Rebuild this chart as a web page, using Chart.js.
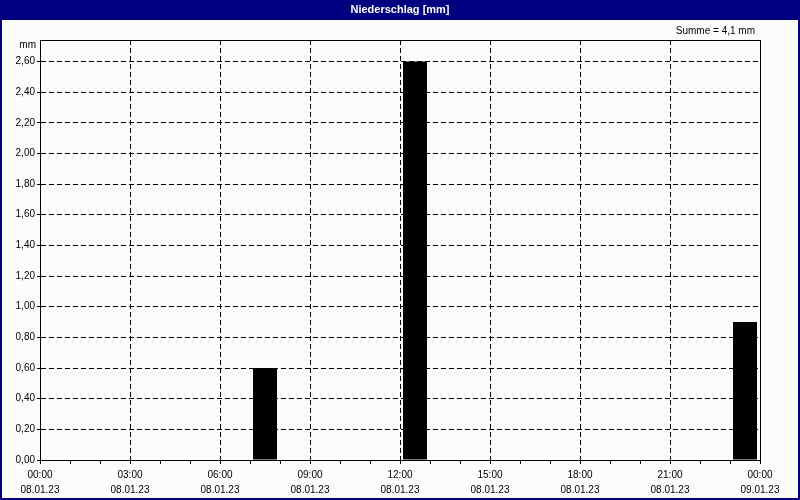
<!DOCTYPE html>
<html>
<head>
<meta charset="utf-8">
<script src="https://cdn.jsdelivr.net/npm/chart.js@4/dist/chart.umd.min.js"></script>
<style>
  html, body { margin: 0; padding: 0; background: #ffffff; }
  canvas { display: block; }
</style>
</head>
<body>
<canvas id="c" width="800" height="500"></canvas>
<script>
// ---- data ----
const titleText = 'Niederschlag [mm]';
const unitLabel = 'mm';
// hourly precipitation (hour starting at index), 08.01.23 00:00 .. 09.01.23 00:00
const hourStarts = ['00:00','01:00','02:00','03:00','04:00','05:00','06:00','07:00','08:00','09:00','10:00','11:00',
                    '12:00','13:00','14:00','15:00','16:00','17:00','18:00','19:00','20:00','21:00','22:00','23:00'];
const precipMm = [0,0,0,0,0,0,0,0.6,0,0,0,0,2.6,0,0,0,0,0,0,0,0,0,0,0.9];
const xTickTimes = ['00:00','03:00','06:00','09:00','12:00','15:00','18:00','21:00','00:00'];
const xTickDates = ['08.01.23','08.01.23','08.01.23','08.01.23','08.01.23','08.01.23','08.01.23','08.01.23','09.01.23'];
const yMax = 2.74;
const yStep = 0.2;

const fontFamily = '"Liberation Sans", Arial, sans-serif';
const total = precipMm.reduce((a, b) => a + b, 0);
const sumText = 'Summe = ' + total.toFixed(1).replace('.', ',') + ' ' + unitLabel;

const frame = {
  id: 'frame',
  beforeDraw(chart) {
    const ctx = chart.ctx;
    ctx.save();
    ctx.fillStyle = '#fafdfa';
    ctx.fillRect(0, 0, chart.width, chart.height);
    ctx.fillStyle = '#000080';
    ctx.fillRect(0, 0, chart.width, 20);
    ctx.fillRect(0, 0, 2, chart.height);
    ctx.fillRect(chart.width - 2, 0, 2, chart.height);
    ctx.fillRect(0, chart.height - 2, chart.width, 2);
    ctx.fillStyle = '#ffffff';
    ctx.font = 'bold 11px ' + fontFamily;
    ctx.textAlign = 'center';
    ctx.textBaseline = 'middle';
    ctx.fillText(titleText, chart.width / 2, 10);
    ctx.restore();
  },
  afterDraw(chart) {
    const ctx = chart.ctx;
    const a = chart.chartArea;
    ctx.save();
    ctx.strokeStyle = '#000';
    ctx.lineWidth = 1;
    ctx.strokeRect(Math.round(a.left) + 0.5, Math.round(a.top) + 0.5,
                   Math.round(a.right - a.left), Math.round(a.bottom - a.top));
    ctx.fillStyle = '#000';
    ctx.font = '10px ' + fontFamily;
    ctx.textBaseline = 'middle';
    ctx.textAlign = 'right';
    ctx.fillText(unitLabel, a.left - 4, a.top + 5);
    ctx.fillText(sumText, a.right - 5, 31);
    ctx.restore();
  }
};

new Chart(document.getElementById('c'), {
  type: 'bar',
  data: {
    datasets: [{
      data: precipMm.map((v, i) => ({ x: i + 0.5, y: v })),
      backgroundColor: '#000',
      borderWidth: 0,
      barPercentage: 0.8,
      categoryPercentage: 1.0
    }]
  },
  plugins: [frame],
  options: {
    responsive: false,
    animation: false,
    devicePixelRatio: 1,
    layout: { padding: { top: 40, right: 40, left: 0, bottom: 0 } },
    plugins: { legend: { display: false }, tooltip: { enabled: false }, title: { display: false } },
    scales: {
      x: {
        type: 'linear',
        min: 0, max: 24,
        offset: false,
        afterFit(s) { s.height = 40; },
        ticks: {
          stepSize: 1, autoSkip: false, maxRotation: 0, minRotation: 0,
          color: '#000', padding: 3,
          font: { family: fontFamily, size: 10, lineHeight: 1.55 },
          callback(v) {
            if (v % 3 !== 0) return '';
            const k = v / 3;
            return [xTickTimes[k], xTickDates[k]];
          }
        },
        grid: {
          offset: false,
          color: (c) => (c.tick && c.tick.value % 3 === 0) ? '#000' : 'rgba(0,0,0,0)',
          tickColor: '#000',
          tickLength: 4,
          lineWidth: 1
        },
        border: { display: true, color: '#000', width: 1, dash: [5, 3] }
      },
      y: {
        min: 0, max: yMax,
        afterFit(s) { s.width = 40; },
        ticks: {
          stepSize: yStep, includeBounds: false,
          color: '#000', padding: 2,
          font: { family: fontFamily, size: 10 },
          callback(v) { return v.toFixed(2).replace('.', ','); }
        },
        grid: {
          offset: false,
          color: '#000',
          tickColor: '#000',
          tickLength: 3,
          lineWidth: 1
        },
        border: { display: true, color: '#000', width: 1, dash: [5, 3] }
      }
    }
  }
});
</script>
</body>
</html>
